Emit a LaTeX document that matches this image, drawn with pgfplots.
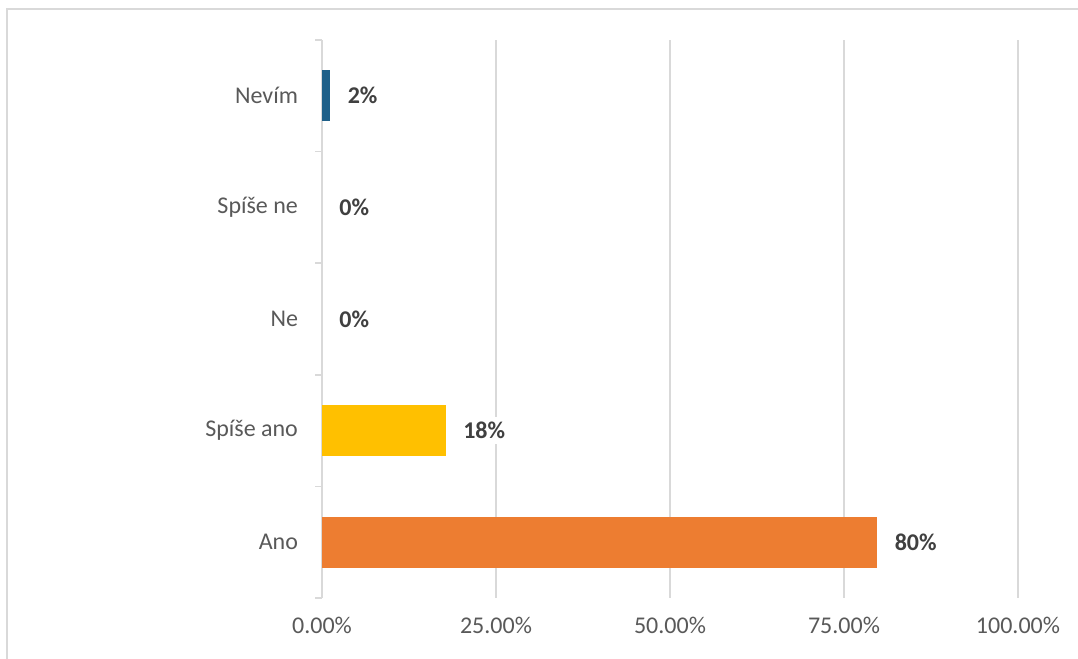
\documentclass[border=0pt]{standalone}
\usepackage{pgfplots}
\pgfplotsset{compat=1.18}
\usepackage{fontspec}
\setmainfont{Carlito}
\definecolor{cOrange}{HTML}{ED7D31}
\definecolor{cYellow}{HTML}{FFC000}
\definecolor{cBlue}{HTML}{1F6089}
\definecolor{cGrid}{HTML}{D9D9D9}
\definecolor{cText}{HTML}{595959}
\definecolor{cLab}{HTML}{404040}
\begin{document}
\begin{tikzpicture}
\useasboundingbox (0,0) rectangle (539pt,329.5pt);
\draw[cGrid, line width=1pt] (3.5pt,0) -- (3.5pt,325pt) -- (539pt,325pt);
\begin{axis}[
  at={(161pt,30.5pt)}, anchor=south west,
  scale only axis, width=348pt, height=279pt,
  xmin=0, xmax=100, ymin=-0.5, ymax=4.5,
  axis lines*=left,
  x axis line style={draw=none},
  y axis line style={draw=cGrid, line width=0.8pt},
  xtick={0,25,50,75,100},
  xticklabels={0.00\%,25.00\%,50.00\%,75.00\%,100.00\%},
  xmajorgrids, grid style={cGrid, line width=0.8pt},
  ytick={0,1,2,3,4},
  yticklabels={Ano,Spíše ano,Ne,Spíše ne,Nevím},
  minor ytick={-0.5,0.5,1.5,2.5,3.5,4.5},
  tick align=outside,
  major tick length=0pt,
  minor tick length=3.5pt,
  y tick style={draw=cGrid, line width=0.8pt},
  x tick style={draw=none},
  tick label style={font=\fontsize{12}{14}\selectfont, text=cText},
  yticklabel style={xshift=-8.5pt},
  xticklabel style={yshift=-6pt},
  xbar, bar width=25.5pt, bar shift=0pt,
  point meta=explicit symbolic,
  nodes near coords={\textbf{\pgfplotspointmeta\%}},
  every node near coord/.append style={anchor=west, xshift=6pt, fill=white, inner sep=2.5pt,
     font=\fontsize{12}{14}\selectfont, text=cLab},
  clip=false,
]
\addplot[fill=cOrange, draw=none] coordinates {(79.8,0) [80]};
\addplot[fill=cYellow, draw=none] coordinates {(17.8,1) [18]};
\addplot[fill=none, draw=none] coordinates {(0,2) [0]};
\addplot[fill=none, draw=none] coordinates {(0,3) [0]};
\addplot[fill=cBlue, draw=none] coordinates {(1.2,4) [2]};
\end{axis}
\end{tikzpicture}
\end{document}
